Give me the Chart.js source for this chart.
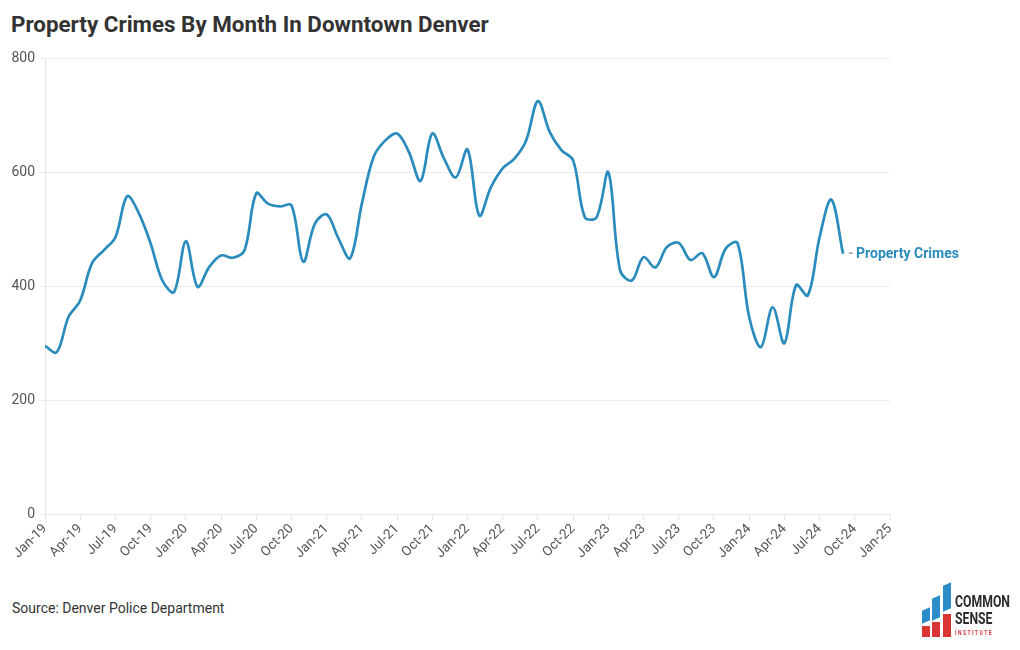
<html>
<head>
<script src="https://cdn.jsdelivr.net/npm/chart.js@4.4.1/dist/chart.umd.min.js"></script>
<style>
  body { margin: 0; background: #fff; font-family: Roboto, sans-serif; }
  #title { position: absolute; left: 11px; top: 11px; font-size: 22.4px; font-weight: bold; color: #333; }
  #wrap { position: absolute; left: 0; top: 46px; width: 1020px; height: 544px; }
  #source { position: absolute; left: 12px; top: 600px; font-size: 14px; color: #333; }
  #logo { position: absolute; left: 920px; top: 580px; width: 95px; height: 60px; }
  .bar { position: absolute; }
  .txt { position: absolute; left: 35px; font-family: Roboto, sans-serif; font-weight: bold; color: #2b2b2b;
         transform: scaleX(0.72); transform-origin: left top; white-space: nowrap; }
</style>
</head>
<body>
<div id="title">Property Crimes By Month In Downtown Denver</div>
<div id="wrap"><canvas id="crimes"></canvas></div>
<div id="source">Source: Denver Police Department</div>
<div id="logo">
  <div class="bar" style="left:2px;top:29px;width:8px;height:13px;background:#2a8cc8;transform:skewY(-25deg)"></div>
  <div class="bar" style="left:12px;top:17px;width:8px;height:22px;background:#2a8cc8;transform:skewY(-25deg)"></div>
  <div class="bar" style="left:23px;top:4px;width:8px;height:26px;background:#2a8cc8;transform:skewY(-25deg)"></div>
  <div class="bar" style="left:2px;top:46px;width:8px;height:11px;background:#d93535"></div>
  <div class="bar" style="left:12px;top:42px;width:8px;height:15px;background:#d93535"></div>
  <div class="bar" style="left:23px;top:34px;width:8px;height:23px;background:#d93535"></div>
  <div class="txt" style="top:13px;font-size:17px;line-height:16px">COMMON</div>
  <div class="txt" style="top:30px;font-size:17px;line-height:16px">SENSE</div>
  <div class="txt" style="top:50px;font-size:7px;line-height:6px;letter-spacing:2px;color:#d93535">INSTITUTE</div>
</div>
<script>
var seriesName = "Property Crimes";
var tickLabels = ["Jan-19","Apr-19","Jul-19","Oct-19","Jan-20","Apr-20","Jul-20","Oct-20",
    "Jan-21","Apr-21","Jul-21","Oct-21","Jan-22","Apr-22","Jul-22","Oct-22",
    "Jan-23","Apr-23","Jul-23","Oct-23","Jan-24","Apr-24","Jul-24","Oct-24","Jan-25"];
// monthly counts, Jan-19 .. Sep-24
var crimes = [295, 284, 346, 375, 440, 463, 486, 558, 528, 475, 410, 390,
    479, 399, 434, 454, 450, 463, 563, 545, 540, 542, 443, 510,
    526, 484, 449, 545, 627, 656, 668, 636, 585, 668, 624, 591,
    640, 524, 574, 607, 624, 656, 725, 671, 639, 621, 521, 521,
    600, 428, 410, 451, 433, 469, 476, 446, 458, 416, 466, 476,
    346, 293, 363, 300, 402, 384, 486, 552, 457];
var lineColor = "#2a8bbd";

var endLabel = {
    id: "endLabel",
    afterDatasetsDraw: function(chart) {
        var meta = chart.getDatasetMeta(0);
        var pt = meta.data[meta.data.length - 1];
        var ctx = chart.ctx;
        ctx.save();
        ctx.font = "bold 14px Roboto";
        ctx.textBaseline = "middle";
        ctx.fillStyle = "#aaa";
        ctx.fillText("-", pt.x + 5, pt.y + 1);
        ctx.fillStyle = lineColor;
        ctx.fillText(seriesName, pt.x + 13, pt.y + 1);
        ctx.restore();
    }
};

new Chart(document.getElementById("crimes"), {
    type: "line",
    data: {
        datasets: [{
            label: seriesName,
            data: crimes.map(function(v, i) { return { x: i, y: v }; }),
            borderColor: lineColor,
            borderWidth: 2.7,
            pointRadius: 0,
            tension: 0.35,
            fill: false
        }]
    },
    options: {
        responsive: true,
        maintainAspectRatio: false,
        animation: false,
        layout: { padding: { top: 4, right: 130, left: 0, bottom: 0 } },
        plugins: { legend: { display: false }, tooltip: { enabled: false } },
        scales: {
            x: {
                type: "linear",
                min: 0,
                max: 72,
                afterFit: function(s) { s.height = 76; },
                afterBuildTicks: function(s) {
                    s.ticks = tickLabels.map(function(t, i) { return { value: i * 3 }; });
                },
                ticks: {
                    autoSkip: false,
                    maxRotation: 45,
                    minRotation: 45,
                    padding: 1,
                    color: "#555",
                    font: { family: "Roboto", size: 13.5 },
                    callback: function(v) { return tickLabels[v / 3]; }
                },
                grid: { drawOnChartArea: false, tickLength: 6, color: "#e6e6e6" },
                border: { color: "#e6e6e6" }
            },
            y: {
                min: 0,
                max: 800,
                afterFit: function(s) { s.width = 45; },
                ticks: {
                    stepSize: 200,
                    padding: 4,
                    color: "#555",
                    font: { family: "Roboto", size: 14 }
                },
                grid: { color: "#ececec", tickLength: 6 },
                border: { color: "#e6e6e6" }
            }
        }
    },
    plugins: [endLabel]
});
</script>
</body>
</html>
